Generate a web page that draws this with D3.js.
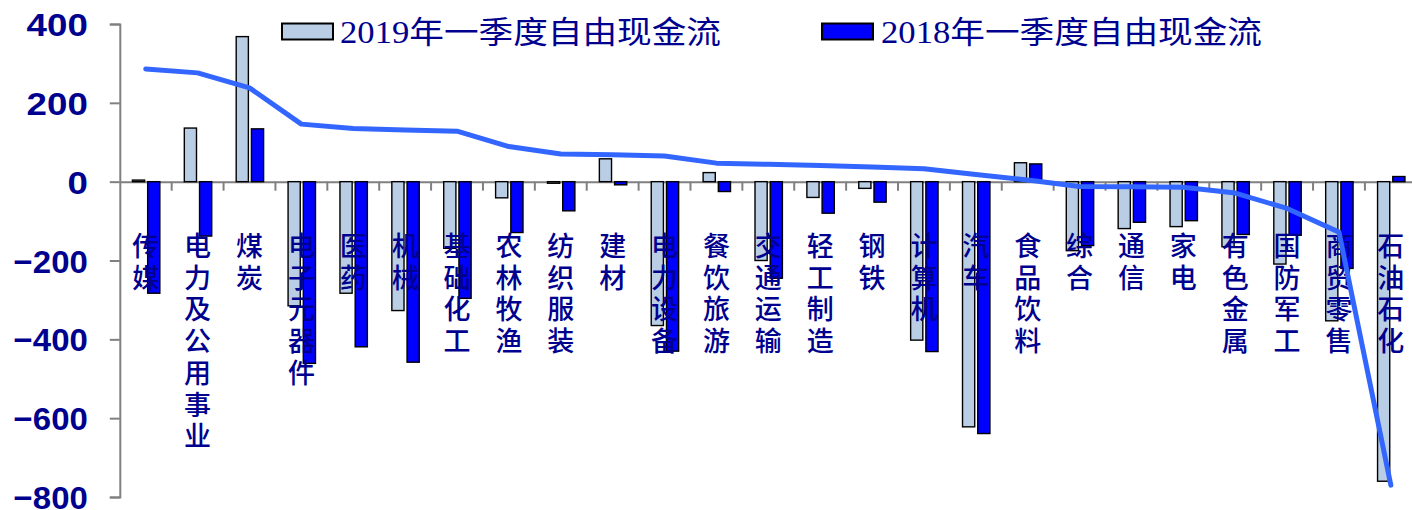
<!DOCTYPE html>
<html>
<head>
<meta charset="utf-8">
<script src="https://cdn.jsdelivr.net/npm/d3@7"></script>
<style>
  html, body { margin: 0; padding: 0; background: #fff; overflow: hidden; }
  svg { display: block; }
</style>
</head>
<body>
<svg id="chart" width="1412" height="510"></svg>
<script>
// Industry names (vertical labels along the zero line)
const categories = ["传媒","电力及公用事业","煤炭","电子元器件","医药","机械","基础化工","农林牧渔","纺织服装","建材","电力设备","餐饮旅游","交通运输","轻工制造","钢铁","计算机","汽车","食品饮料","综合","通信","家电","有色金属","国防军工","商贸零售","石油石化"];

// Free cash flow, Q1 2019 (亿元)
const fcf2019 = [4, 136, 368, -315, -283, -327, -169, -41, -4, 58, -365, 23, -200, -40, -17, -402, -622, 48, -175, -119, -114, -165, -209, -353, -760];

// Free cash flow, Q1 2018 (亿元)
const fcf2018 = [-283, -138, 134, -461, -419, -458, -296, -129, -74, -8, -430, -25, -245, -80, -52, -431, -639, 45, -162, -103, -99, -134, -136, -220, 13];

// Year-over-year change, drawn as the descending line
const change = [286, 276, 238, 146, 135, 131, 128, 89, 70, 68, 65, 47, 44, 41, 37, 33, 18, 4, -12, -13, -14, -29, -68, -128, -770];

const seriesNames = ["2019年一季度自由现金流", "2018年一季度自由现金流"];
const yTicks = [400, 200, 0, -200, -400, -600, -800];

const svg = d3.select("#chart");
const navy = "#00008f";
const colors = { "2019": "#b9cde5", "2018": "#0000ff" };

const x = d3.scaleBand().domain(categories).range([119.8, 1416.8]).padding(0);
const y = d3.scaleLinear().domain([-800, 400]).range([497, 24]);
const xSub = d3.scaleBand().domain(["2019", "2018"]).range([-13.3, 14.1]).paddingInner(0.2);

// Y axis
const yAxis = svg.append("g")
  .attr("transform", `translate(${x.range()[0]},0)`)
  .call(d3.axisLeft(y).tickValues(yTicks).tickSize(10).tickPadding(22).tickFormat(d3.format("d")));
yAxis.select(".domain").attr("stroke", "#808080").attr("stroke-width", 2);
yAxis.selectAll(".tick line").attr("stroke", "#808080").attr("stroke-width", 2);
yAxis.selectAll(".tick text")
  .attr("fill", navy)
  .attr("font-family", "'Liberation Sans', Arial, sans-serif")
  .attr("font-weight", "bold")
  .attr("font-size", 32)
  .attr("dy", "0.36em")
  .attr("textLength", d => String(d).replace("-", "").length * 20.4 + (d < 0 ? 13 : 0))
  .attr("lengthAdjust", "spacingAndGlyphs");

// Category axis along zero, ticks between categories
const xAxis = svg.append("g")
  .attr("transform", `translate(0,${y(0)})`)
  .call(d3.axisBottom(x).tickSize(0).tickFormat(""));
xAxis.select(".domain").attr("stroke", "#808080").attr("stroke-width", 2);
svg.append("g")
  .selectAll("line")
  .data(categories.slice(1))
  .join("line")
  .attr("x1", d => x(d)).attr("x2", d => x(d))
  .attr("y1", y(0)).attr("y2", y(0) + 9)
  .attr("stroke", "#808080").attr("stroke-width", 2);

// Bars
const rows = categories.map((c, i) => ({ c, v2019: fcf2019[i], v2018: fcf2018[i] }));
const barG = svg.append("g");
[["2019", "v2019"], ["2018", "v2018"]].forEach(([key, field]) => {
  barG.selectAll(`rect.b${key}`)
    .data(rows)
    .join("rect")
    .attr("class", `b${key}`)
    .attr("x", d => x(d.c) + x.bandwidth() / 2 + xSub(key))
    .attr("width", xSub.bandwidth())
    .attr("y", d => y(Math.max(0, d[field])))
    .attr("height", d => Math.abs(y(d[field]) - y(0)))
    .attr("fill", colors[key])
    .attr("stroke", "#000")
    .attr("stroke-width", 1.4);
});

// Vertical category labels, one character per line
const labelG = svg.append("g")
  .attr("fill", navy)
  .attr("font-family", "'Noto Sans CJK SC', sans-serif")
  .attr("font-weight", 500)
  .attr("font-size", 27)
  .attr("text-anchor", "middle");
categories.forEach(c => {
  Array.from(c).forEach((ch, k) => {
    labelG.append("text")
      .attr("x", x(c) + x.bandwidth() / 2)
      .attr("y", 256 + k * 31.7)
      .text(ch);
  });
});

// Change line
const line = d3.line()
  .x((d, i) => x(categories[i]) + x.bandwidth() / 2)
  .y(d => y(d))
  .curve(d3.curveLinear);
svg.append("path")
  .datum(change)
  .attr("d", line)
  .attr("fill", "none")
  .attr("stroke", "#3366ff")
  .attr("stroke-width", 5)
  .attr("stroke-linecap", "round")
  .attr("stroke-linejoin", "round");

// Legend
const legend = [
  { name: seriesNames[0], key: "2019", sx: 282, tx: 340, tw: 381 },
  { name: seriesNames[1], key: "2018", sx: 822, tx: 881, tw: 381 }
];
const lg = svg.append("g");
legend.forEach(l => {
  lg.append("rect")
    .attr("x", l.sx).attr("y", 23.5)
    .attr("width", 51).attr("height", 16)
    .attr("fill", colors[l.key])
    .attr("stroke", "#000").attr("stroke-width", 2);
  lg.append("text")
    .attr("x", l.tx).attr("y", 43)
    .attr("fill", navy)
    .attr("font-family", "'Liberation Serif', 'Noto Sans CJK SC', serif")
    .attr("font-size", 31)
    .attr("textLength", l.tw)
    .attr("lengthAdjust", "spacingAndGlyphs")
    .text(l.name);
});
</script>
</body>
</html>
